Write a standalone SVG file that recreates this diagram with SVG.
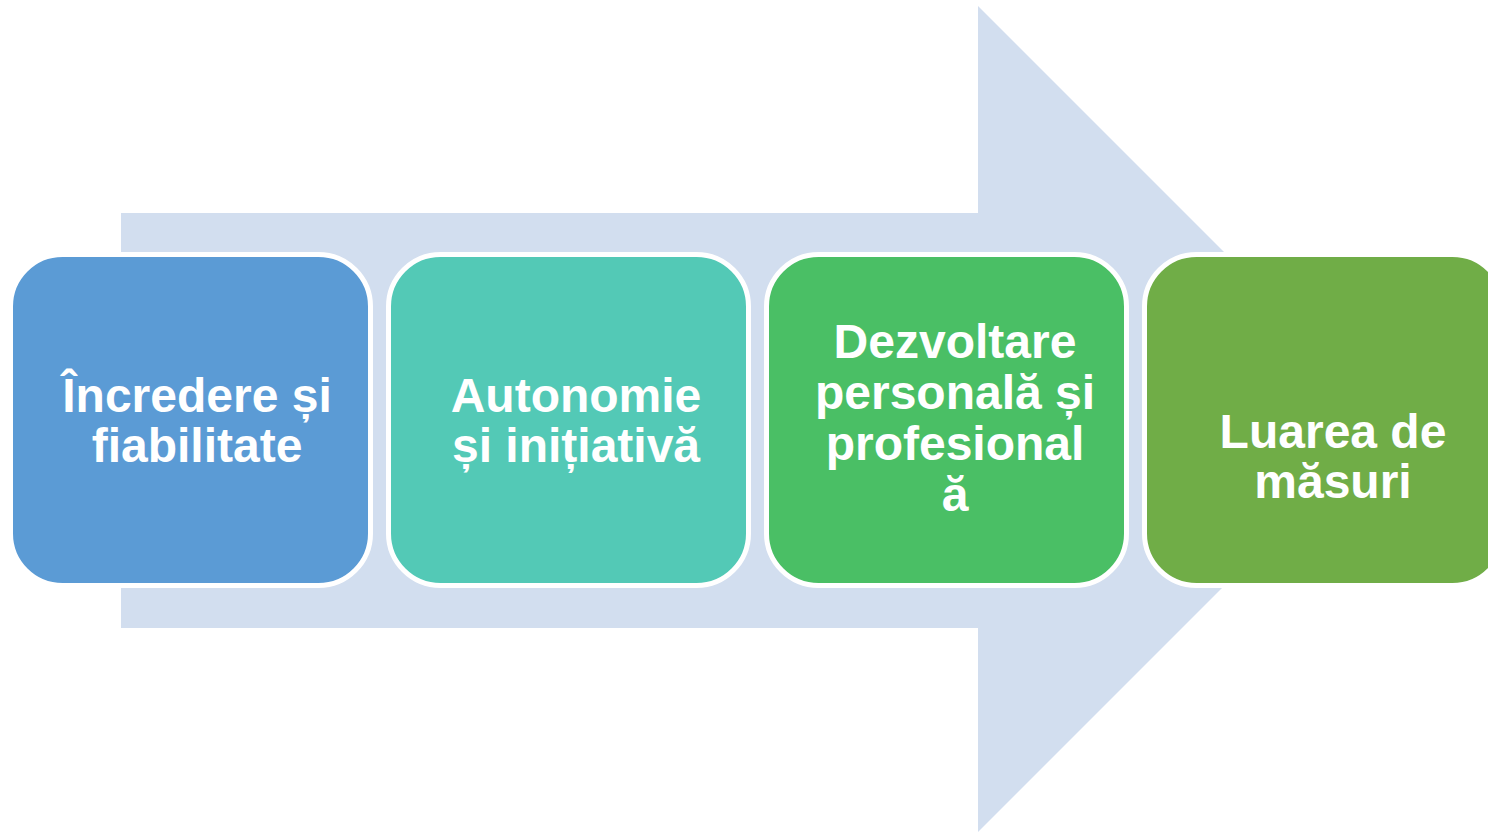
<svg xmlns="http://www.w3.org/2000/svg" width="1488" height="833" viewBox="0 0 1488 833">
<style>
.box{stroke:#FFFFFF;stroke-width:5}
.lbl{font-family:"Liberation Sans",Arial,sans-serif;font-weight:bold;font-size:48px;fill:#FFFFFF;text-anchor:middle}
</style>
<rect width="1488" height="833" fill="#FFFFFF"/>
<g id="connectors">
<polygon id="arrow" points="121,213 978,213 978,6 1391,419 978,832 978,628 121,628" fill="#D2DEEF"/>
</g>
<g id="node1">
<rect class="box" x="10.5" y="254.5" width="360" height="331" rx="52" fill="#5B9BD5"/>
<text class="lbl" x="197" y="412">Încredere și</text>
<text class="lbl" x="197" y="462">fiabilitate</text>
</g>
<g id="node2">
<rect class="box" x="388.5" y="254.5" width="360" height="331" rx="52" fill="#53C9B6"/>
<text class="lbl" x="576" y="412">Autonomie</text>
<text class="lbl" x="576" y="462">și inițiativă</text>
</g>
<g id="node3">
<rect class="box" x="766.5" y="254.5" width="360" height="331" rx="52" fill="#4ABF65"/>
<text class="lbl" x="955" y="358">Dezvoltare</text>
<text class="lbl" x="955" y="409">personală și</text>
<text class="lbl" x="955" y="460">profesional</text>
<text class="lbl" x="955" y="511">ă</text>
</g>
<g id="node4">
<rect class="box" x="1144.5" y="254.5" width="360" height="331" rx="52" fill="#70AD47"/>
<text class="lbl" x="1333" y="448">Luarea de</text>
<text class="lbl" x="1333" y="498">măsuri</text>
</g>
</svg>
